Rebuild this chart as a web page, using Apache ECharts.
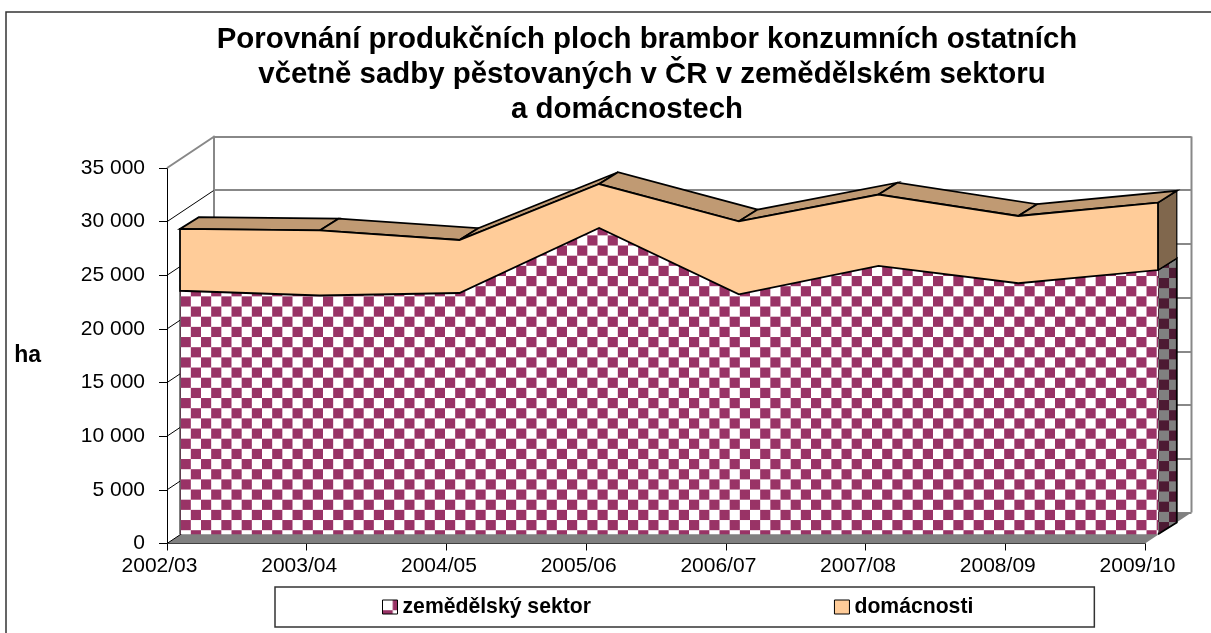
<!DOCTYPE html>
<html><head><meta charset="utf-8">
<style>html,body{margin:0;padding:0;background:#fff}#c{width:1211px;height:633px}</style>
<script src="https://cdn.jsdelivr.net/npm/echarts@6/dist/echarts.min.js"></script>
</head><body><div id="c"></div>
<script>
const categories = ['2002/03','2003/04','2004/05','2005/06','2006/07','2007/08','2008/09','2009/10'];
const zemedelsky = [22700,22260,22490,28550,22370,25010,23400,24630];
const domacnosti = [5760,6060,4940,4100,6800,6660,6270,6280];
const titleLines = ['Porovnání produkčních ploch brambor konzumních ostatních','včetně sadby pěstovaných v ČR v zemědělském sektoru','a domácnostech'];

const totals = zemedelsky.map((v,i)=>v+domacnosti[i]);
function checker(light,dark,ox,oy){
  const s=61,cell=s/6,cv=document.createElement('canvas');cv.width=s;cv.height=s;
  const g=cv.getContext('2d');g.fillStyle=light;g.fillRect(0,0,s,s);g.fillStyle=dark;
  for(let r=-2;r<8;r++)for(let c=-2;c<8;c++){if((r+c)%2===0)g.fillRect(ox+c*cell-cell*2,oy+r*cell-cell*2,cell,cell);}
  return {image:cv,repeat:'repeat'};
}
const frontFill=checker('#ffffff','#993366',18,11.7);
const sideFill=checker('#808080','#4d1a33',20.2,13.7);
const legendFill=checker('#ffffff','#993366',10.17,0);
const DEPTH=[18.8,-11.8];      // data slab depth
const WALL=[46.5,-31];         // axis plane to back wall
const add=(p,d)=>[p[0]+d[0],p[1]+d[1]];
const poly=(pts,style)=>({type:'polygon',shape:{points:pts},style});
const line=(pts,style)=>({type:'polyline',shape:{points:pts},style});
const FONT='"Liberation Sans",Arial,sans-serif';

const option={
  animation:false,
  textStyle:{fontFamily:FONT,color:'#000'},
  graphic:[{type:'polyline',silent:true,shape:{points:[[6,633],[6,12],[1211,12]]},style:{stroke:'#333',lineWidth:1.5,fill:null}}],
  title:titleLines.map((t,i)=>({text:t,left:[642,647,622][i],top:[20,55,90][i],textAlign:'center',
    textStyle:{fontSize:29.4,fontWeight:'bold',color:'#000',fontFamily:FONT}})),
  legend:{
    left:275,top:587,orient:'horizontal',backgroundColor:'#fff',borderColor:'#333',borderWidth:1.5,
    padding:[9.5,121,9.5,107],itemGap:243,itemWidth:15,itemHeight:14,itemStyle:{},icon:'rect',
    textStyle:{fontSize:21.2,fontWeight:'bold',color:'#000',fontFamily:FONT},
    data:[{name:'zemědělský sektor',itemStyle:{color:legendFill,borderColor:'#000',borderWidth:1}},
          {name:'domácnosti',itemStyle:{color:'#ffcc99',borderColor:'#000',borderWidth:1}}]
  },
  grid:[
    {left:167,top:168,width:978,height:375.5},
    {left:213.5,top:136.5,width:978,height:376},
    {left:180,top:158.8,width:978,height:375.5}
  ],
  xAxis:[
    {gridIndex:0,type:'category',data:categories,boundaryGap:false,
     axisLine:{lineStyle:{color:'#000',width:1}},axisTick:{length:7,lineStyle:{color:'#000'},alignWithLabel:true},
     axisLabel:{fontSize:21,color:'#000',margin:12,interval:0,hideOverlap:false,padding:[0,15,0,0]}},
    {gridIndex:1,type:'category',data:categories,boundaryGap:false,show:false},
    {gridIndex:2,type:'category',data:categories,boundaryGap:false,show:false}
  ],
  yAxis:[
    {gridIndex:0,type:'value',min:0,max:35000,interval:5000,name:'ha',nameLocation:'middle',nameRotate:0,nameGap:126,
     nameTextStyle:{fontSize:23,fontWeight:'bold',color:'#000',padding:[6,0,0,0]},
     axisLine:{show:true,lineStyle:{color:'#000'}},axisTick:{show:true,length:8,lineStyle:{color:'#000'}},splitLine:{show:false},
     axisLabel:{fontSize:21,color:'#000',margin:22,formatter:v=>String(v).replace(/\B(?=(\d{3})+$)/g,' ')}},
    {gridIndex:1,type:'value',min:0,max:35000,interval:5000,axisLabel:{show:false},axisTick:{show:false},
     axisLine:{show:true,lineStyle:{color:'#888',width:2}},splitLine:{show:true,lineStyle:{color:'#888',width:2}}},
    {gridIndex:2,type:'value',min:0,max:35000,show:false,splitLine:{show:false}}
  ],
  series:[
    {type:'custom',name:'stěny',xAxisIndex:0,yAxisIndex:0,z:1,silent:true,data:[0,5000,10000,15000,20000,25000,30000,35000],
     renderItem(p,api){
       const a=api.coord([0,api.value(0)]),b=add(a,WALL),top=api.value(0)===35000;
       const kids=[line([a,b],{stroke:top?'#888':'#000',lineWidth:top?2:1,fill:null})];
       if(api.value(0)===0){
         const e=api.coord([categories.length-1,0]);
         kids.unshift(poly([a,e,add(e,WALL),b],{fill:'#808080',stroke:null}));
       }
       return {type:'group',children:kids};
     },encode:{y:0}},
    {type:'custom',name:'stěna-pravá',xAxisIndex:1,yAxisIndex:1,z:1,silent:true,data:[0],
     renderItem(p,api){
       const e=api.coord([categories.length-1,0]),t=api.coord([categories.length-1,35000]);
       return line([t,e],{stroke:'#888',lineWidth:2,fill:null});
     }},
    {type:'custom',name:'zemědělský sektor',xAxisIndex:2,yAxisIndex:2,z:3,itemStyle:{color:frontFill},data:zemedelsky.map((v,i)=>[i,v]),
     encode:{x:0,y:1},
     renderItem(p,api){
       if(p.dataIndex!==0)return null;
       const tops=zemedelsky.map((v,i)=>api.coord([i,v]));
       const base0=api.coord([0,0]),base1=api.coord([categories.length-1,0]);
       const last=tops[tops.length-1];
       return {type:'group',children:[
         poly([base1,last,add(last,DEPTH),add(base1,DEPTH)],{fill:sideFill,stroke:null}),
         poly([base0,...tops,base1],{fill:frontFill,stroke:null}),
         line([base0,tops[0]],{stroke:'#000',lineWidth:1,fill:null}),
         line([base1,add(base1,DEPTH),add(last,DEPTH),last],{stroke:'#000',lineWidth:1.8,fill:null})
       ]};
     }},
    {type:'custom',name:'domácnosti',xAxisIndex:2,yAxisIndex:2,z:4,itemStyle:{color:'#ffcc99'},data:domacnosti.map((v,i)=>[i,v]),
     encode:{x:0,y:1},
     renderItem(p,api){
       if(p.dataIndex!==0)return null;
       const lows=zemedelsky.map((v,i)=>api.coord([i,v]));
       const tops=totals.map((v,i)=>api.coord([i,v]));
       const n=tops.length-1,kids=[];
       kids.push(poly([tops[n],add(tops[n],DEPTH),add(lows[n],DEPTH),lows[n]],{fill:'#80674d',stroke:'#000',lineWidth:1.2}));
       for(let i=0;i<n;i++){
         kids.push(poly([tops[i],tops[i+1],add(tops[i+1],DEPTH),add(tops[i],DEPTH)],{fill:'#c09a73',stroke:'#000',lineWidth:1.8}));
       }
       kids.push(poly([...tops,...lows.slice().reverse()],{fill:'#ffcc99',stroke:'#000',lineWidth:1.8}));
       return {type:'group',children:kids};
     }}
  ]
};
echarts.init(document.getElementById('c'),null,{renderer:'canvas'}).setOption(option);
</script></body></html>
